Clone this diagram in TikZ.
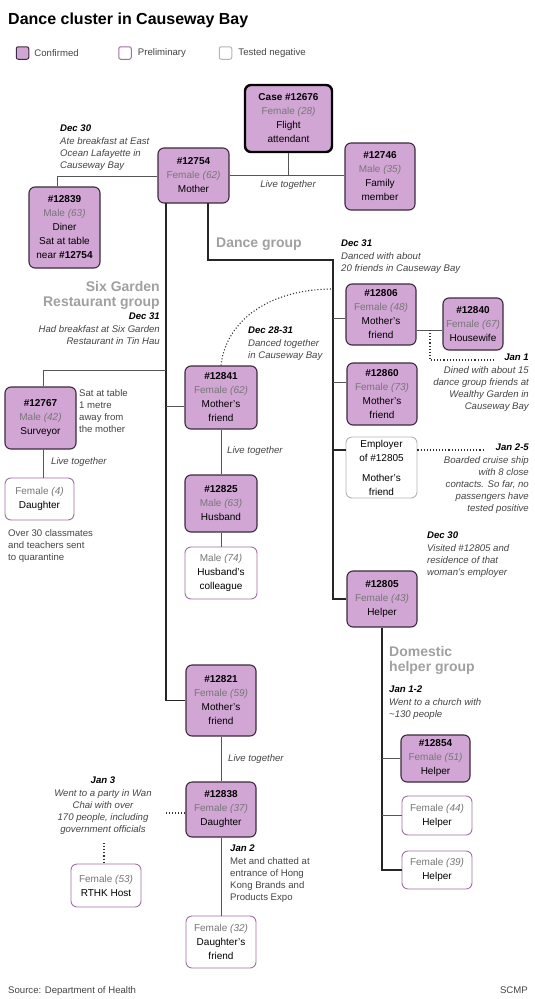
\documentclass[tikz,border=0pt]{standalone}
\usepackage{fontspec}
\setmainfont{Liberation Sans}
\usepackage{xcolor}
\usetikzlibrary{positioning}

\definecolor{casefill}{HTML}{D1A6D4}
\definecolor{caseline}{HTML}{3B2B3C}
\definecolor{prelimline}{HTML}{A06FA3}
\definecolor{negline}{HTML}{B5B5B5}
\definecolor{sexgray}{HTML}{777777}
\definecolor{notegray}{HTML}{444444}
\definecolor{groupgray}{HTML}{A0A0A0}
\definecolor{linkgray}{HTML}{555555}

\newcommand{\sex}[2]{{\color{sexgray}#1 \textit{(#2)}}}
\newcommand{\when}[1]{{\color{black}\bfseries #1}}

\begin{document}
\begin{tikzpicture}[
  x=1pt, y=-1pt,
  box/.style={rectangle, rounded corners=6pt, align=center, inner sep=1pt, font=\fontsize{10}{14}\selectfont},
  confirmed/.style={box, fill=casefill, draw=caseline, line width=1.1pt},
  index/.style={box, fill=casefill, draw=black, line width=2.4pt},
  prelim/.style={box, fill=white, draw=prelimline, line width=0.9pt},
  negative/.style={box, fill=white, draw=negline, line width=0.9pt},
  link/.style={draw=linkgray, line width=1pt},
  trunk/.style={draw=black!85, line width=1.4pt},
  contact/.style={draw=black!80, line width=1.1pt, dotted},
  note/.style={inner sep=0pt, text=notegray, font=\fontsize{9.6}{12.2}\selectfont\itshape},
  plain/.style={inner sep=0pt, text=notegray, font=\fontsize{9.6}{12.2}\selectfont},
  group/.style={inner sep=0pt, text=groupgray, font=\fontsize{14}{15}\selectfont\bfseries},
  legendsq/.style={rectangle, rounded corners=2pt, minimum size=12.5pt, inner sep=0pt, line width=1pt}
]
\useasboundingbox (0,0) rectangle (535,999);

% title and legend
\node[anchor=base west, inner sep=0pt, font=\fontsize{16}{18}\selectfont\bfseries] (title) at (8,24) {Dance cluster in Causeway Bay};
\node[legendsq, fill=casefill, draw=caseline] (lgconf) at (22.5,53) {};
\node[plain, right=5pt of lgconf] (lgconftext) {Confirmed};
\node[legendsq, fill=white, draw=prelimline] (lgpre) at (125,53) {};
\node[plain, right=6pt of lgpre] (lgpretext) {Preliminary};
\node[legendsq, fill=white, draw=negline] (lgneg) at (225.5,53) {};
\node[plain, right=6pt of lgneg] (lgnegtext) {Tested negative};

% cases
\node[index, minimum width=87pt, minimum height=67pt] (c12676) at (288.5,118.5) {\textbf{Case \#12676}\\\sex{Female}{28}\\Flight\\attendant};
\node[confirmed, minimum width=71pt, minimum height=55pt] (c12754) at (193.5,175.5) {\textbf{\#12754}\\\sex{Female}{62}\\Mother};
\node[confirmed, minimum width=70pt, minimum height=67pt] (c12746) at (380,176.5) {\textbf{\#12746}\\\sex{Male}{35}\\Family\\member};
\node[confirmed, minimum width=71pt, minimum height=81pt] (c12839) at (64.5,227.5) {\textbf{\#12839}\\\sex{Male}{63}\\Diner\\Sat at table\\near \textbf{\#12754}};
\node[confirmed, minimum width=70pt, minimum height=61pt] (c12806) at (381,314.5) {\textbf{\#12806}\\\sex{Female}{48}\\Mother's\\friend};
\node[confirmed, minimum width=60pt, minimum height=52pt] (c12840) at (473,324) {\textbf{\#12840}\\\sex{Female}{67}\\Housewife};
\node[confirmed, minimum width=70pt, minimum height=62pt] (c12860) at (382,394) {\textbf{\#12860}\\\sex{Female}{73}\\Mother's\\friend};
\node[negative, minimum width=71pt, minimum height=61pt] (employer) at (381.5,467.5) {Employer\\of \#12805\\[6pt]Mother's\\friend};
\node[confirmed, minimum width=70pt, minimum height=56pt] (c12805) at (382,599) {\textbf{\#12805}\\\sex{Female}{43}\\Helper};
\node[confirmed, minimum width=71pt, minimum height=62pt] (c12767) at (40.5,418) {\textbf{\#12767}\\\sex{Male}{42}\\Surveyor};
\node[prelim, minimum width=69pt, minimum height=42pt] (daughter4) at (39.5,499) {\sex{Female}{4}\\Daughter};
\node[confirmed, minimum width=72pt, minimum height=63pt] (c12841) at (221,397.5) {\textbf{\#12841}\\\sex{Female}{62}\\Mother's\\friend};
\node[confirmed, minimum width=72pt, minimum height=57pt] (c12825) at (221,503.5) {\textbf{\#12825}\\\sex{Male}{63}\\Husband};
\node[prelim, minimum width=72pt, minimum height=52pt] (colleague) at (221,573) {\sex{Male}{74}\\Husband's\\colleague};
\node[confirmed, minimum width=70pt, minimum height=71pt] (c12821) at (221,700.5) {\textbf{\#12821}\\\sex{Female}{59}\\Mother's\\friend};
\node[confirmed, minimum width=70pt, minimum height=55pt] (c12838) at (221,809.5) {\textbf{\#12838}\\\sex{Female}{37}\\Daughter};
\node[prelim, minimum width=70pt, minimum height=43pt] (host) at (106,885.5) {\sex{Female}{53}\\RTHK Host};
\node[prelim, minimum width=70pt, minimum height=52pt] (friend32) at (221,942) {\sex{Female}{32}\\Daughter's\\friend};
\node[confirmed, minimum width=69pt, minimum height=47pt] (c12854) at (435.5,758.5) {\textbf{\#12854}\\\sex{Female}{51}\\Helper};
\node[prelim, minimum width=70pt, minimum height=39pt] (helper44) at (437,815.5) {\sex{Female}{44}\\Helper};
\node[prelim, minimum width=70pt, minimum height=38pt] (helper39) at (437,870) {\sex{Female}{39}\\Helper};

% junctions
\coordinate (eastocean) at (57,176);
\coordinate (sixgarden) at (166,203);
\coordinate (j67) at (43,370);
\coordinate (j41) at (166,406);
\coordinate (dance0) at (208,203);
\coordinate (dance1) at (333,260);
\coordinate (j06) at (333,318);
\coordinate (j60) at (333,382);
\coordinate (jemp) at (333,450);
\coordinate (j40) at (430,330);
\coordinate (wealthy) at (495,360);
\coordinate (cruise) at (483,450);
\coordinate (dancearc) at (333,289);
\coordinate (party) at (164,813);
\coordinate (hosttop) at (104,843);

% family of the mother
\draw[link] (c12676.south) -- (c12676.south |- c12754.east);
\draw[link] (c12754.east) -- (c12754.east -| c12746.west);
\draw[link] (c12754.west |- eastocean) -- (eastocean) -- (eastocean |- c12839.north);

% Six Garden restaurant group
\draw[trunk] (sixgarden) |- (c12821.west);
\draw[link] (sixgarden |- j67) -- (j67) -- (j67 |- c12767.north);
\draw[link] (j67 |- c12767.south) -- (j67 |- daughter4.north);
\draw[link] (j41) -- (j41 -| c12841.west);
\draw[link] (c12841.south) -- (c12825.north);
\draw[link] (c12825.south) -- (colleague.north);
\draw[link] (c12821.south) -- (c12838.north);
\draw[link] (c12838.south) -- (friend32.north);

% dance group
\draw[trunk] (dance0) |- (dance1) |- (c12805.west);
\draw[link] (j06) -- (j06 -| c12806.west);
\draw[link] (j60) -- (j60 -| c12860.west);
\draw[trunk] (jemp) -- (jemp -| employer.west);
\draw[link] (j40 -| c12806.east) -- (j40 -| c12840.west);

% domestic helpers
\draw[trunk] (c12805.south) |- (helper39.west);
\draw[link] (c12854.west -| c12805.south) -- (c12854.west);
\draw[link] (helper44.west -| c12805.south) -- (helper44.west);

% close contacts
\draw[contact] (c12841.north) .. controls (226,320) and (270,289) .. (dancearc);
\draw[contact] (j40) |- (wealthy);
\draw[contact] (jemp -| employer.east) -- (cruise);
\draw[contact] (c12838.west |- party) -- (party);
\draw[contact] (hosttop) -- (hosttop |- host.north);

% labels
\node[note, align=left, anchor=north west] (dec30east) at (60,125) {\when{Dec 30}\\Ate breakfast at East\\Ocean Lafayette in\\Causeway Bay};
\node[note, anchor=north] (live1) at (288,180) {Live together};
\node[group, anchor=west] (dancegroup) at (216,244) {Dance group};
\node[note, align=left, anchor=north west] (dec31dance) at (341,240) {\when{Dec 31}\\Danced with about\\20 friends in Causeway Bay};
\node[group, align=right, anchor=north east] (sixgroup) at (160,281) {Six Garden\\Restaurant group};
\node[note, align=right, anchor=north east] (dec31six) at (160,313) {\when{Dec 31}\\Had breakfast at Six Garden\\Restaurant in Tin Hau};
\node[note, align=left, anchor=north west] (dec28) at (248,327) {\when{Dec 28-31}\\Danced together\\in Causeway Bay};
\node[note, align=right, anchor=north east] (jan1) at (529,354) {\when{Jan 1}\\Dined with about 15\\dance group friends at\\Wealthy Garden in\\Causeway Bay};
\node[note, align=right, anchor=north east] (jan25) at (529,444) {\when{Jan 2-5}\\Boarded cruise ship\\with 8 close\\contacts. So far, no\\passengers have\\tested positive};
\node[note, align=left, anchor=north west] (dec30helper) at (427,532) {\when{Dec 30}\\Visited \#12805 and\\residence of that\\woman's employer};
\node[plain, align=left, anchor=north west] (sattable) at (79,389) {Sat at table\\1 metre\\away from\\the mother};
\node[note, anchor=north west] (live2) at (51,457) {Live together};
\node[note, anchor=north west] (live3) at (227,446) {Live together};
\node[plain, align=left, anchor=north west] (quarantine) at (8,529) {Over 30 classmates\\and teachers sent\\to quarantine};
\node[group, align=left, anchor=north west] (helpergroup) at (389,646) {Domestic\\helper group};
\node[note, align=left, anchor=north west] (jan12) at (389,686) {\when{Jan 1-2}\\Went to a church with\\\textasciitilde130 people};
\node[note, anchor=north west] (live4) at (228,754) {Live together};
\node[note, align=center, anchor=north] (jan3) at (103,777) {\when{Jan 3}\\Went to a party in Wan\\Chai with over\\170 people, including\\government officials};
\node[plain, align=left, anchor=north west] (jan2) at (230,845) {\textit{\when{Jan 2}}\\Met and chatted at\\entrance of Hong\\Kong Brands and\\Products Expo};
\node[plain, anchor=base west] (source) at (8,993) {Source: Department of Health};
\node[plain, anchor=base east] (scmp) at (528,993) {SCMP};
\end{tikzpicture}
\end{document}
